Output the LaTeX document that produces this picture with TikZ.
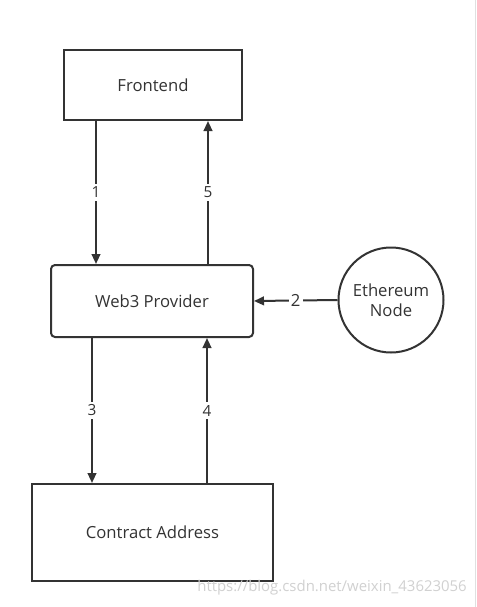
\documentclass[tikz,border=0pt]{standalone}
\usepackage{fontspec}
\setmainfont{Open Sans}
\usetikzlibrary{arrows.meta,shapes.geometric}
\definecolor{ink}{HTML}{333333}
\tikzset{
  px/.style={x=0.75pt,y=-0.75pt},
  box/.style={draw=ink,line width=1.5pt,text=ink,font=\fontsize{12.5}{15}\selectfont,inner sep=0pt,align=center},
  flow/.style={draw=ink,line width=1.5pt,-{Triangle[length=7.5pt,width=6.5pt]}},
  num/.style={fill=white,text=ink,inner xsep=1.5pt,inner ysep=2.5pt,font=\fontsize{11.5}{13}\selectfont},
}
\begin{document}
\begin{tikzpicture}[px]
\useasboundingbox (0,0) rectangle (476,607);
\fill[white] (0,0) rectangle (476,607);
\draw[black!12,line width=0.75pt] (475,0) -- (475,607);
\node[box,minimum width=178*0.75pt,minimum height=70*0.75pt] (fe) at (153,85) {Frontend};
\node[box,rounded corners=3pt,minimum width=202*0.75pt,minimum height=72*0.75pt] (w3) at (152,301) {Web3 Provider};
\node[box,circle,minimum size=105*0.75pt] (eth) at (391,300) {Ethereum\\Node};
\node[box,minimum width=241*0.75pt,minimum height=97*0.75pt] (ca) at (152.5,532.5) {Contract Address};
\draw[flow] (fe.south -| 96,0) -- node[num,pos=0.5]{1} (w3.north -| 96,0);
\draw[flow] (w3.north -| 208,0) -- node[num,pos=0.5]{5} (fe.south -| 208,0);
\draw[flow] (w3.south -| 92,0) -- node[num,pos=0.5]{3} (ca.north -| 92,0);
\draw[flow] (ca.north -| 207,0) -- node[num,pos=0.5]{4} (w3.south -| 207,0);
\draw[flow] (eth.west) -- node[num,pos=0.5,inner ysep=1pt,font=\fontsize{12.5}{15}\selectfont]{2} (w3.east);
\node[text=black!18,font=\fontsize{11.2}{13}\selectfont,anchor=east,inner sep=0pt] (wm) at (467,588) {https://blog.csdn.net/weixin\_43623056};
\end{tikzpicture}
\end{document}
